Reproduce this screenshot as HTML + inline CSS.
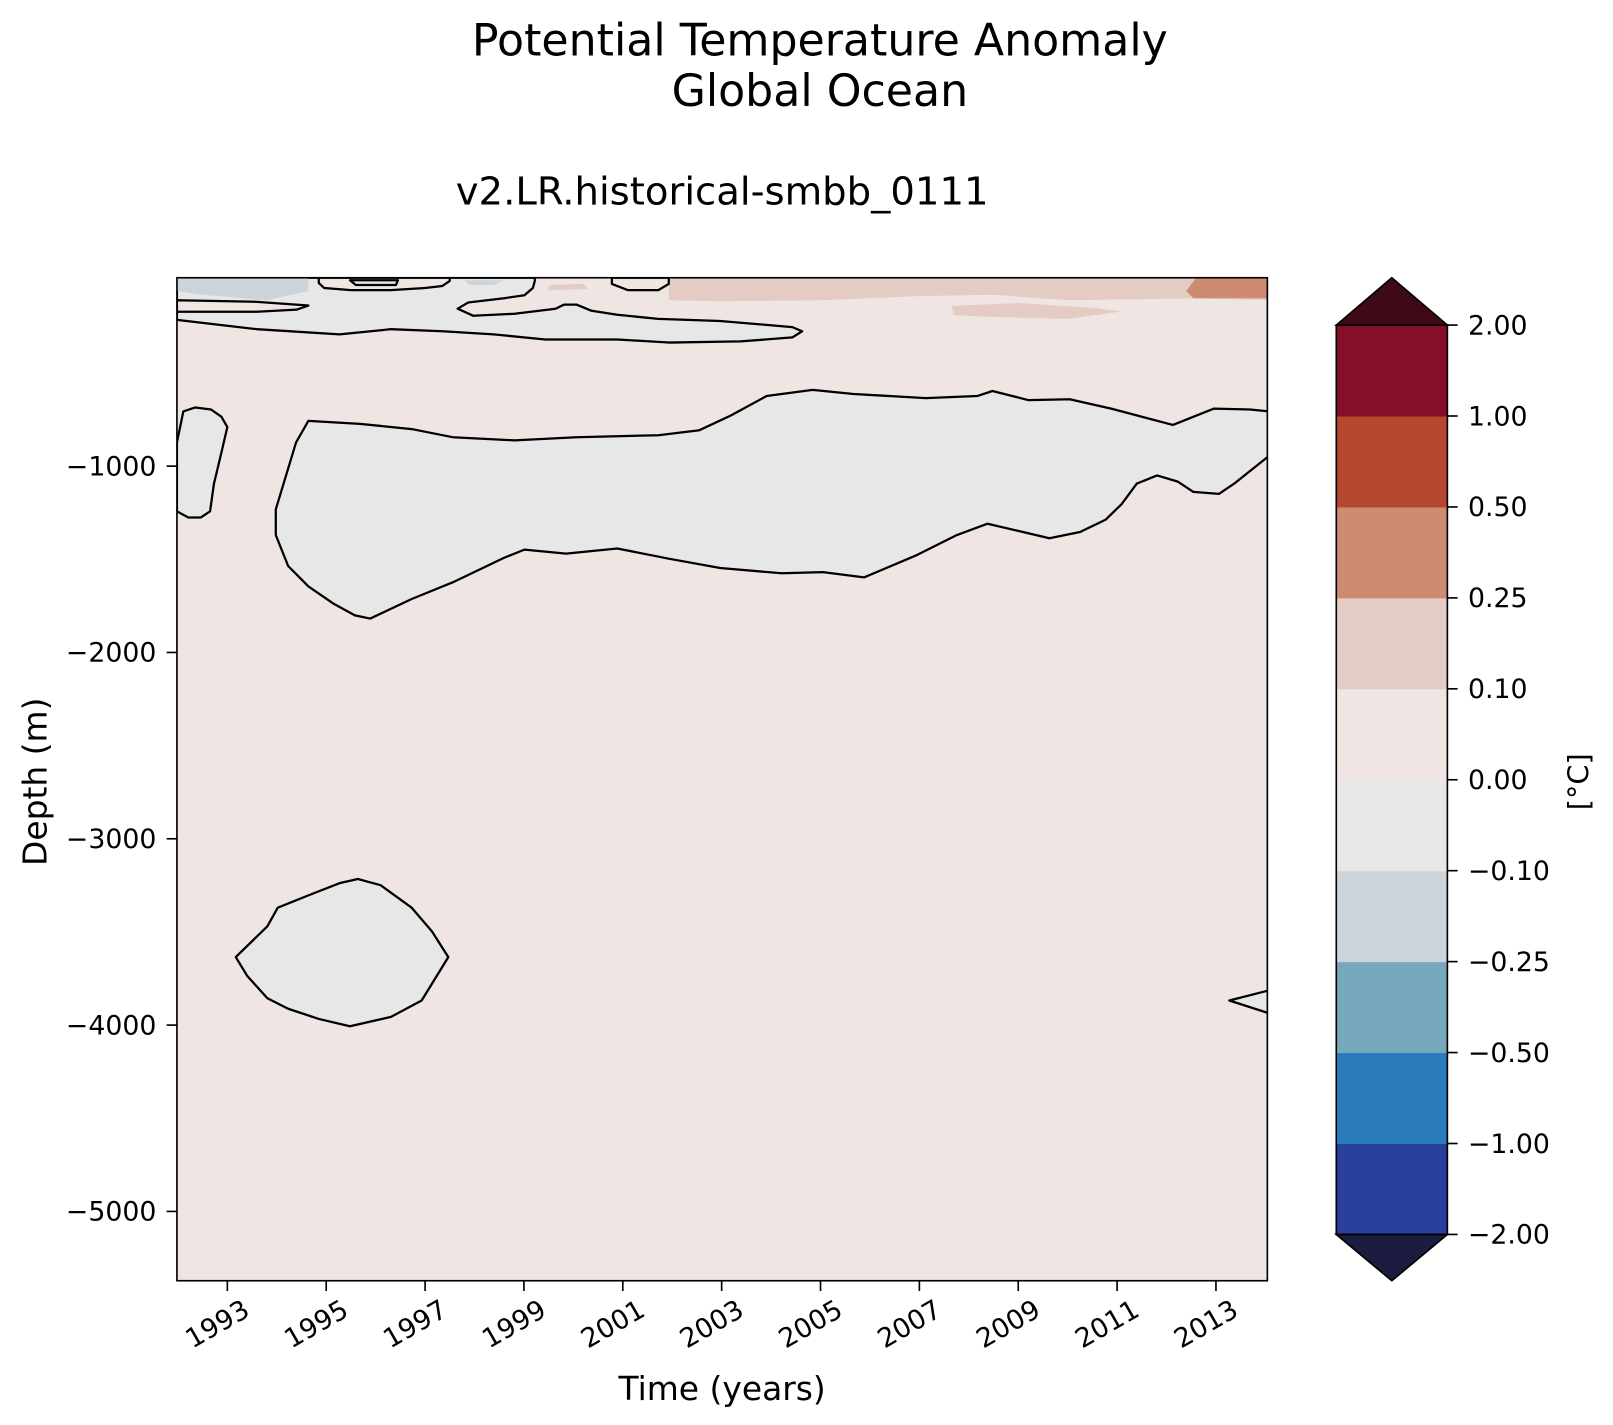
<!DOCTYPE html>
<html><head><meta charset="utf-8"><style>
body{margin:0;background:#fff;}
svg{display:block;font-family:"DejaVu Sans","Liberation Sans",sans-serif;}
</style></head><body>
<svg id="chart" width="1613" height="1425" viewBox="0 0 1613 1425">
<g transform="scale(1.02870)">
<text x="797" y="54" font-size="43" text-anchor="middle">Potential Temperature Anomaly</text>
<text x="797" y="103" font-size="43" text-anchor="middle">Global Ocean</text>
<text x="702" y="199" font-size="37.5" text-anchor="middle">v2.LR.historical-smbb_0111</text>
<defs><clipPath id="clip"><rect x="172" y="270" width="1060" height="975"/></clipPath></defs>
<g id="plot" clip-path="url(#clip)"></g>
<rect x="172" y="270" width="1060" height="975" fill="none" stroke="#000" stroke-width="1.6"/>
<g id="axes"></g>
<text x="702" y="1361" font-size="32" text-anchor="middle">Time (years)</text>
<text transform="translate(45,760) rotate(-90)" font-size="32" text-anchor="middle">Depth (m)</text>
<g id="cbar"></g>
<text transform="translate(1544,760) rotate(-90)" font-size="28" text-anchor="middle">[°C]</text>
</g>
</svg>
<script>
const xTicks=[1993,1995,1997,1999,2001,2003,2005,2007,2009,2011,2013];
const yTicks=[-1000,-2000,-3000,-4000,-5000];
const levels=[-2,-1,-0.5,-0.25,-0.1,0,0.1,0.25,0.5,1,2];
const levelLabels=["−2.00","−1.00","−0.50","−0.25","−0.10","0.00","0.10","0.25","0.50","1.00","2.00"];
const binColors=["#283f9b","#2a7bb7","#77a9bc","#cbd4d9","#e8e7e8","#efe6e4","#e4cbc3","#cd8b72","#b5472f","#850f26"];
const underColor="#1b1c40", overColor="#3f0a15";
const bgColor="#efe6e4";
const greyTop=[[1991.98,11],[1999.22,11],[1999.22,-6],[1999.18,-44],[1999.01,-83],[1998.60,-99],[1997.87,-122],[1997.66,-155],[1997.97,-193],[1998.81,-182],[1999.64,-155],[1999.81,-133],[2000.06,-133],[2000.37,-166],[2000.89,-188],[2001.72,-210],[2002.97,-221],[2004.43,-254],[2004.63,-276],[2004.43,-309],[2003.38,-331],[2001.93,-337],[2000.89,-320],[1999.43,-320],[1998.39,-293],[1997.35,-276],[1996.31,-265],[1995.27,-293],[1993.60,-265],[1991.98,-215]];
const tongue=[[1991.98,-110],[1993.6,-118],[1994.64,-138],[1994.4,-160],[1993.6,-171],[1991.98,-171]];
const pocket1=[[1994.85,11],[1994.85,-17],[1994.96,-44],[1995.5,-55],[1996.31,-55],[1997.0,-44],[1997.35,-33],[1997.5,-6],[1997.5,11]];
const pocket2=[[1995.48,-2],[1995.6,-28],[1996.41,-28],[1996.45,-2]];
const pocket3=[[2000.78,11],[2000.78,-22],[2001.1,-55],[2001.72,-55],[2001.93,-22],[2001.93,11]];
const midBlob=[[1994.39,-873],[1994.64,-757],[1995.68,-773],[1996.73,-801],[1997.56,-845],[1998.81,-862],[2000.06,-845],[2001.72,-834],[2002.55,-807],[2003.18,-729],[2003.91,-624],[2004.84,-591],[2005.67,-613],[2007.13,-635],[2008.17,-624],[2008.48,-597],[2009.21,-646],[2010.04,-641],[2010.88,-691],[2012.13,-779],[2012.96,-691],[2013.69,-696],[2014.1,-707],[2014.1,-939],[2013.37,-1094],[2013.06,-1149],[2012.54,-1138],[2012.23,-1083],[2011.81,-1050],[2011.40,-1094],[2011.09,-1204],[2010.77,-1287],[2010.25,-1354],[2009.63,-1387],[2009.00,-1348],[2008.38,-1309],[2007.76,-1370],[2006.92,-1481],[2005.88,-1597],[2005.05,-1569],[2004.22,-1575],[2002.97,-1547],[2001.93,-1497],[2000.89,-1442],[1999.85,-1470],[1999.01,-1448],[1998.60,-1492],[1997.56,-1624],[1996.73,-1713],[1995.89,-1818],[1995.58,-1801],[1995.16,-1740],[1994.64,-1646],[1994.23,-1536],[1993.98,-1370],[1993.98,-1232]];
const leftBlob=[[1992.11,-707],[1992.35,-685],[1992.67,-696],[1992.88,-735],[1993.0,-790],[1992.88,-928],[1992.73,-1094],[1992.65,-1243],[1992.46,-1276],[1992.21,-1276],[1991.98,-1243],[1991.98,-873]];
const deepBlob=[[1993.17,-3635],[1993.81,-3470],[1994.02,-3370],[1994.64,-3304],[1995.27,-3238],[1995.64,-3216],[1996.10,-3249],[1996.73,-3370],[1997.14,-3497],[1997.47,-3635],[1996.93,-3868],[1996.31,-3956],[1995.48,-4006],[1994.85,-3967],[1994.23,-3912],[1993.81,-3856],[1993.40,-3735]];
const wedge=[[2014.1,-3812],[2013.27,-3868],[2014.1,-3939]];
const bluePatch1=[[1991.98,11],[1994.64,11],[1994.64,-60],[1993.8,-110],[1992.5,-80],[1991.98,-60]];
const bluePatch2=[[1997.8,-3],[1998.6,-3],[1998.4,-28],[1997.9,-28]];
const salmonBand=[[2001.93,11],[2014.1,11],[2014.1,-110],[2012.5,-100],[2010.0,-110],[2008.5,-80],[2007.0,-88],[2005.0,-110],[2003.0,-115],[2001.93,-110]];
const salmonBlob=[[2007.65,-140],[2009.0,-125],[2010.5,-150],[2011.09,-170],[2010.0,-210],[2008.5,-200],[2007.7,-190]];
const salmonSmall=[[1999.5,-28],[2000.2,-22],[2000.3,-50],[1999.5,-55]];
const darkSalmon=[[2012.6,11],[2014.1,11],[2014.1,-99],[2012.54,-99],[2012.4,-60]];

const X0=1991.98,X1=2014.04,D0=11,D1=-5372;
const xs=y=>172+(y-X0)/(X1-X0)*1060;
const ys=d=>270+(D0-d)/(D0-D1)*975;
const NS="http://www.w3.org/2000/svg";
function mk(tag,attrs,parent){const e=document.createElementNS(NS,tag);for(const k in attrs)e.setAttribute(k,attrs[k]);parent.appendChild(e);return e;}
function pathD(pts,close){const s=pts.map((p,i)=>(i?"L":"M")+xs(p[0]).toFixed(1)+","+ys(p[1]).toFixed(1)).join("");return close?s+"Z":s;}
const plot=document.getElementById("plot");
const bg=mk("rect",{x:172,y:270,width:1060,height:975,fill:bgColor},plot);


function region(pts,fill,stroke,name){
  const p=mk("path",{d:pathD(pts,true),fill:fill,stroke:stroke?"#000":"none","stroke-width":2.2,"stroke-linejoin":"round"},plot);
  
  
}
region(greyTop,binColors[4],true,"contour-upper-grey");
region(bluePatch1,binColors[3],false,"cool-patch-left");
region(bluePatch2,binColors[3],false,"cool-patch-small");
region(salmonBand,binColors[6],false,"warm-band-top");
region(salmonBlob,binColors[6],false,"warm-blob-top");
region(salmonSmall,binColors[6],false,"warm-patch-small");
region(darkSalmon,binColors[7],false,"warm-patch-strong");
region(tongue,bgColor,true,"contour-tongue");
region(pocket1,bgColor,true,"contour-pocket-a");
region(pocket2,binColors[4],true,"contour-pocket-b");
region(pocket3,bgColor,true,"contour-pocket-c");
region(midBlob,binColors[4],true,"contour-mid-depth");
region(leftBlob,binColors[4],true,"contour-left-edge");
region(deepBlob,binColors[4],true,"contour-deep");
region(wedge,binColors[4],true,"contour-wedge");

const axes=document.getElementById("axes");
xTicks.forEach(t=>{
  const x=xs(t);
  const l=mk("line",{x1:x,y1:1245,x2:x,y2:1255,stroke:"#000","stroke-width":1.6},axes);
  
  
  const tx=mk("text",{transform:`translate(${x+14},1262) rotate(-30)`,"font-size":26,"text-anchor":"end","dominant-baseline":"hanging"},axes);
  tx.textContent=String(t);
  
  
});
yTicks.forEach(t=>{
  const y=ys(t);
  const l=mk("line",{x1:162,y1:y,x2:172,y2:y,stroke:"#000","stroke-width":1.6},axes);
  
  
  const tx=mk("text",{x:152,y:y+9,"font-size":26,"text-anchor":"end"},axes);
  tx.textContent=String(t).replace("-","−");
  
  
});
const cb=document.getElementById("cbar");
const cbX=1299,cbW=108,cbTop=316,cbBot=1200;
const bh=(cbBot-cbTop)/binColors.length;
binColors.forEach((c,i)=>{
  const r=mk("rect",{x:cbX,y:cbBot-(i+1)*bh,width:cbW,height:bh+0.5,fill:c},cb);
  
  
});
const ov=mk("polygon",{points:`${cbX},${cbTop} ${cbX+cbW/2},270 ${cbX+cbW},${cbTop}`,fill:overColor,stroke:"#000","stroke-width":1.6},cb);


const un=mk("polygon",{points:`${cbX},${cbBot} ${cbX+cbW/2},1245 ${cbX+cbW},${cbBot}`,fill:underColor,stroke:"#000","stroke-width":1.6},cb);


const fr=mk("rect",{x:cbX,y:cbTop,width:cbW,height:cbBot-cbTop,fill:"none",stroke:"#000","stroke-width":1.6},cb);


levels.forEach((v,i)=>{
  const y=cbBot-i*bh;
  const l=mk("line",{x1:cbX+cbW,y1:y,x2:cbX+cbW+10,y2:y,stroke:"#000","stroke-width":1.6},cb);
  
  
  const tx=mk("text",{x:cbX+cbW+20,y:y+9,"font-size":26},cb);
  tx.textContent=levelLabels[i];
  
  
});
</script>
</body></html>
